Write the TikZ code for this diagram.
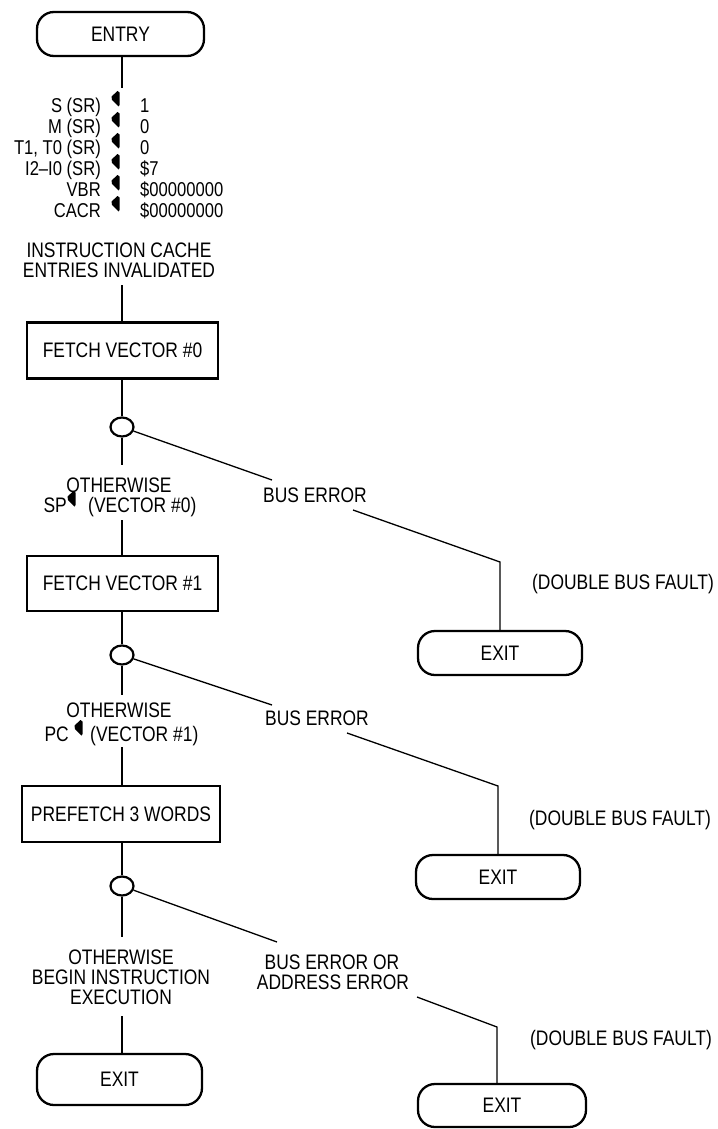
\documentclass[tikz,border=0pt]{standalone}
\usepackage{fontspec}
\setmainfont{Liberation Sans}[FakeStretch=0.83]
\usetikzlibrary{shapes.geometric}
\tikzset{
  txt/.style={anchor=base,inner sep=0pt,font=\fontsize{21}{21}\selectfont},
  asg/.style={inner sep=0pt,font=\fontsize{20}{20}\selectfont},
  procbox/.style={draw,line width=2.6pt,rectangle,inner sep=0pt,font=\fontsize{21}{21}\selectfont},
  term/.style={draw,line width=2.3pt,rectangle,rounded corners=17pt,inner sep=0pt,font=\fontsize{21}{21}\selectfont},
  dec/.style={draw,line width=2.2pt,ellipse,inner sep=0pt,minimum width=23pt,minimum height=19pt},
  conn/.style={line width=1.3pt},
  leftmark/.pic={\fill (1.5,-14) -- (3.5,-12.5) -- (3.5,0) -- (2.5,1.5) -- (-4,-5) -- (-4.5,-8.5) -- cycle;}
}
\begin{document}
\begin{tikzpicture}[x=1pt,y=-1pt]
\useasboundingbox (0,0) rectangle (717,1129);

% terminals and boxes
\node[term,minimum width=167pt,minimum height=44pt] (entry) at (120.5,34) {ENTRY};
\node[procbox,minimum width=191pt,minimum height=56pt] (box0) at (122.5,350.5) {FETCH VECTOR \#0};
\node[procbox,minimum width=191pt,minimum height=55pt] (box1) at (122.5,583.5) {FETCH VECTOR \#1};
\node[procbox,minimum width=198pt,minimum height=56pt] (box2) at (121,814) {PREFETCH 3 WORDS};
\node[term,minimum width=164pt,minimum height=44pt] (x1) at (500,653) {EXIT};
\node[term,minimum width=164pt,minimum height=44pt] (x2) at (498,877) {EXIT};
\node[term,minimum width=168pt,minimum height=43pt] (x3) at (502,1105.5) {EXIT};
\node[term,minimum width=165pt,minimum height=51pt] (xl) at (119.5,1079.5) {EXIT};

% decisions
\node[dec] (c1) at (122,427) {};
\node[dec] (c2) at (122,655) {};
\node[dec] (c3) at (122,886) {};

% assignment block
\foreach \n/\l/\v/\y in {a1/S (SR)/1/105, a2/M (SR)/0/126, a3/{T1, T0 (SR)}/0/147, a4/I2–I0 (SR)/\$7/168, a5/VBR/\$00000000/189, a6/CACR/\$00000000/210}{
  \node[asg,anchor=base east] (\n l) at (101,\y+7.3) {\l};
  \node[asg,anchor=base west] (\n v) at (140,\y+7.3) {\v};
  \pic at (116,\y) {leftmark};
}

\node[txt] (ic1) at (119,257) {INSTRUCTION CACHE};
\node[txt] (ic2) at (119,277.5) {ENTRIES INVALIDATED};

% branch labels
\node[txt] (ow1) at (119,492) {OTHERWISE};
\node[txt,anchor=base east] (sp) at (67,512) {SP};
\node[txt,anchor=base west] (v0) at (88,512) {(VECTOR \#0)};
\pic at (72,505) {leftmark};
\node[txt] (be1) at (315,502) {BUS ERROR};
\node[txt] (df1) at (623,589.5) {(DOUBLE BUS FAULT)};

\node[txt] (ow2) at (119,717) {OTHERWISE};
\node[txt,anchor=base east] (pc) at (69,741.5) {PC};
\node[txt,anchor=base west] (v1) at (90,741.5) {(VECTOR \#1)};
\pic at (79,734) {leftmark};
\node[txt] (be2) at (317,725) {BUS ERROR};
\node[txt] (df2) at (620,825.5) {(DOUBLE BUS FAULT)};

\node[txt] (ow3) at (121,964.5) {OTHERWISE};
\node[txt] (bi3) at (121,984.5) {BEGIN INSTRUCTION};
\node[txt] (ex3) at (121,1004.5) {EXECUTION};
\node[txt] (be3a) at (332,969.5) {BUS ERROR OR};
\node[txt] (be3b) at (333,989.5) {ADDRESS ERROR};
\node[txt] (df3) at (621,1045.5) {(DOUBLE BUS FAULT)};

% free-end coordinates
\coordinate (e1) at (122,88);
\coordinate (e2) at (122,285);
\coordinate (o1a) at (122,465);
\coordinate (o1b) at (122,520);
\coordinate (o2a) at (122,695);
\coordinate (o2b) at (122,747);
\coordinate (o3a) at (122,937);
\coordinate (o3b) at (122,1016);
\coordinate (d1a) at (272,480);
\coordinate (d1b) at (353,510);
\coordinate (k1) at (500,562);
\coordinate (d2a) at (272,705);
\coordinate (d2b) at (347,733);
\coordinate (k2) at (498,786);
\coordinate (d3a) at (277,942);
\coordinate (d3b) at (417,997);
\coordinate (k3) at (497,1027);

% connectors
\draw[conn] (entry.south -| e1) -- (e1);
\draw[conn] (e2) -- (e2 |- box0.north);
\draw[conn] (box0.south -| c1) -- (c1);
\draw[conn] (c1) -- (o1a);
\draw[conn] (o1b) -- (o1b |- box1.north);
\draw[conn] (box1.south -| c2) -- (c2);
\draw[conn] (c2) -- (o2a);
\draw[conn] (o2b) -- (o2b |- box2.north);
\draw[conn] (box2.south -| c3) -- (c3);
\draw[conn] (c3) -- (o3a);
\draw[conn] (o3b) -- (o3b |- xl.north);
\draw[conn] (c1) -- (d1a);
\draw[conn] (d1b) -- (k1) -- (k1 |- x1.north);
\draw[conn] (c2) -- (d2a);
\draw[conn] (d2b) -- (k2) -- (k2 |- x2.north);
\draw[conn] (c3) -- (d3a);
\draw[conn] (d3b) -- (k3) -- (k3 |- x3.north);
\end{tikzpicture}
\end{document}
